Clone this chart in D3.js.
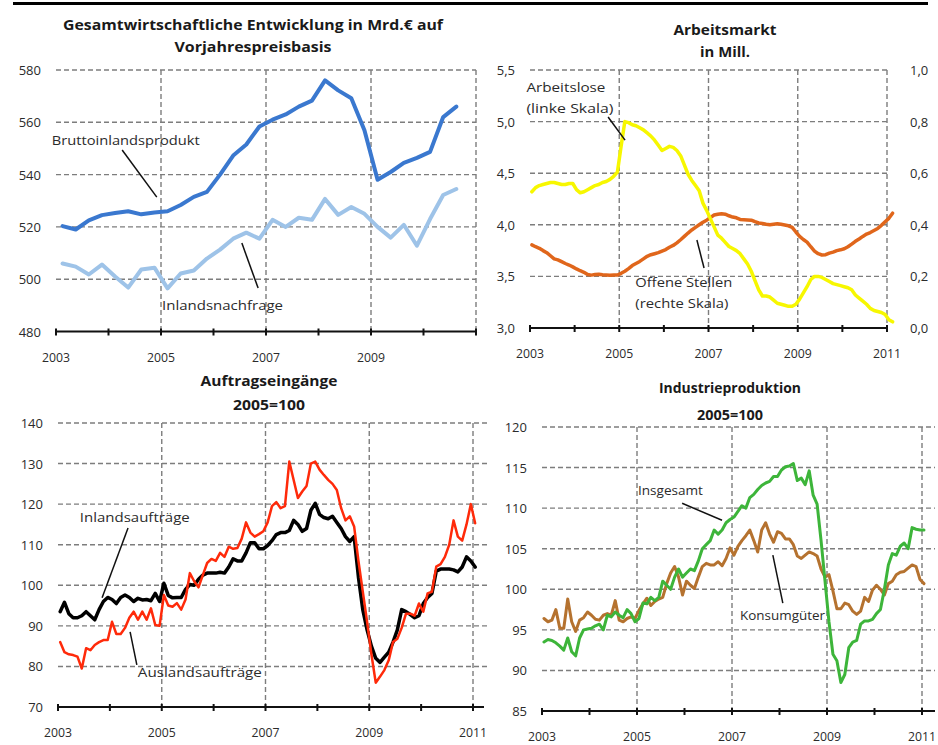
<!DOCTYPE html>
<html>
<head>
<meta charset="utf-8">
<script src="https://cdn.jsdelivr.net/npm/d3@7"></script>
<style>
  body { margin: 0; background: #fff; }
  svg { display: block; }
  text { font-family: "Open Sans", "DejaVu Sans", sans-serif; fill: #2b2b2b; }
</style>
</head>
<body>
<svg id="chart" width="938" height="745"></svg>
<script>
// ---- data ----
var years = [2003, 2004, 2005, 2006, 2007, 2008, 2009, 2010, 2011];
var gridYears = [2005, 2007, 2009, 2011];

// Gesamtwirtschaftliche Entwicklung, quarterly from 2003 Q1, Mrd. EUR
var bipValues = [520.3, 519, 522.5, 524.5, 525.3, 526, 524.8, 525.5, 526, 528.4, 531.5, 533.4,
  540, 547.3, 551.5, 558.4, 561, 563, 566, 568.3, 576, 572.2, 569.2, 557, 538, 541, 544.5,
  546.4, 548.7, 562, 566];
var inlandsnachfrageValues = [506, 504.8, 501.8, 505.6, 501, 496.8, 503.7, 504.4, 496.5, 502.2,
  503.3, 507.9, 511.3, 515.5, 517.8, 515.5, 522.7, 520, 523.5, 522.7, 530.7, 524.6, 527.6, 525,
  520, 515.9, 520.8, 512.8, 523, 532.2, 534.5];

// Arbeitsmarkt, monthly from Jan 2003, Mill.
var arbeitsloseValues = [4.32, 4.36, 4.38, 4.39, 4.40, 4.41, 4.41, 4.40, 4.39, 4.39,
  4.40, 4.40, 4.34, 4.31, 4.32, 4.34, 4.36, 4.38, 4.39, 4.41,
  4.42, 4.44, 4.47, 4.51, 4.76, 5.00, 4.99, 4.97, 4.96, 4.94,
  4.92, 4.89, 4.86, 4.82, 4.77, 4.72, 4.74, 4.76, 4.75, 4.72,
  4.67, 4.58, 4.49, 4.43, 4.38, 4.33, 4.21, 4.14, 4.06, 3.98,
  3.90, 3.87, 3.83, 3.79, 3.77, 3.75, 3.72, 3.67, 3.62, 3.55,
  3.46, 3.37, 3.31, 3.31, 3.30, 3.27, 3.24, 3.23, 3.22, 3.21,
  3.21, 3.23, 3.28, 3.34, 3.40, 3.47, 3.50, 3.50, 3.49, 3.47,
  3.45, 3.43, 3.42, 3.41, 3.40, 3.39, 3.37, 3.32, 3.29, 3.26,
  3.23, 3.19, 3.17, 3.16, 3.15, 3.13, 3.08, 3.06];
var offeneStellenValues = [0.322, 0.315, 0.309, 0.300, 0.292, 0.280, 0.268, 0.264, 0.257, 0.250,
  0.244, 0.237, 0.229, 0.222, 0.216, 0.207, 0.205, 0.207, 0.208, 0.206,
  0.205, 0.204, 0.205, 0.205, 0.212, 0.220, 0.230, 0.242, 0.250, 0.258,
  0.268, 0.278, 0.284, 0.288, 0.292, 0.298, 0.304, 0.313, 0.320, 0.330,
  0.342, 0.355, 0.368, 0.380, 0.390, 0.400, 0.410, 0.418, 0.428, 0.438,
  0.441, 0.443, 0.441, 0.435, 0.430, 0.427, 0.421, 0.420, 0.419, 0.418,
  0.412, 0.407, 0.405, 0.402, 0.400, 0.402, 0.404, 0.402, 0.399, 0.396,
  0.390, 0.372, 0.355, 0.343, 0.333, 0.315, 0.298, 0.288, 0.283, 0.284,
  0.290, 0.294, 0.300, 0.303, 0.307, 0.315, 0.325, 0.336, 0.345, 0.355,
  0.364, 0.370, 0.378, 0.386, 0.398, 0.412, 0.425, 0.445];

// Auftragseingänge, monthly from Jan 2003, 2005=100
var inlandsauftraegeValues = [93.5, 95.8, 93, 92, 92, 92.5, 93.5, 92.5, 91.5, 94,
  96, 97, 96.5, 95.5, 97, 97.6, 97, 96, 96.8, 96.4,
  96.5, 96.2, 98, 96, 100.5, 97.5, 96.9, 97, 97, 99,
  100.2, 100, 101.5, 102.5, 103, 103, 103, 103.2, 103, 104.5,
  106.5, 106, 106, 108, 110.5, 110.5, 109, 109, 109.8, 111,
  112.5, 113, 113, 113.5, 116, 115, 113.3, 114, 118.5, 120.2,
  117.5, 116.7, 116.4, 117, 115.5, 114, 112, 110.8, 112, 102,
  94, 89, 85, 82, 81, 82.3, 83.5, 86, 89, 94,
  93.5, 92.8, 92, 92.5, 95.5, 97, 98, 103.5, 104, 104,
  104, 103.8, 103.3, 104.5, 107, 106, 104.5];
var auslandsauftraegeValues = [86, 83.5, 83, 82.8, 82.4, 79.5, 84.5, 84, 85.3, 86,
  86.5, 86.5, 91, 88, 88, 89.5, 92, 93.5, 91.5, 93.5,
  91.5, 94.3, 90.2, 90, 97.6, 95, 94.7, 95.6, 94, 96.5,
  103, 101, 99.5, 102.5, 105.5, 106.5, 106, 108, 107, 109.5,
  109, 109.2, 111.5, 115.5, 113, 112, 112.6, 113.3, 115.5, 119.5,
  120.5, 119, 119.5, 130.5, 126, 121.5, 123.1, 124.5, 130, 130.5,
  128.5, 127.2, 126, 125, 123.5, 119, 116, 117, 114.5, 106,
  98.5, 91, 83, 76, 77.5, 79.1, 81.5, 86, 86.8, 89.5,
  93, 93, 92.5, 95.5, 93.5, 98, 98.4, 104.6, 105.2, 107,
  110, 116, 112, 111, 115, 120, 115.3];

// Industrieproduktion, monthly from Jan 2003, 2005=100
var insgesamtValues = [93.5, 93.8, 93.7, 93.4, 93, 92.5, 94, 92.3, 91.8, 94,
  95, 95.1, 95.2, 95.5, 95.7, 95, 96.8, 96.6, 97.2, 96.8,
  96.5, 97.5, 97, 96, 96.4, 98.3, 98.2, 99, 98.6, 99,
  101, 100.5, 100, 101.5, 102.5, 101.5, 102, 102.5, 102.3, 103.5,
  105, 105.5, 106, 107.3, 106.8, 107.3, 108.2, 108.6, 108.9, 109.6,
  110.3, 110, 111.3, 111.7, 112.3, 112.8, 113.1, 113.3, 113.9, 113.9,
  114.7, 115.1, 115.2, 115.5, 113.4, 113.7, 112.9, 114.6, 111.6, 110.5,
  106, 101, 96, 92, 91.2, 88.5, 89.5, 92.8, 93.5, 93.7,
  95.7, 96.1, 96.1, 96.3, 97, 97.5, 100, 103, 104.4, 104.2,
  105.3, 105.7, 105, 107.6, 107.4, 107.3, 107.3];
var konsumgueterValues = [96.4, 96, 96.2, 97.5, 95.2, 95.2, 98.8, 96, 94.8, 96.2,
  96.5, 97.2, 96.8, 96.3, 96.2, 96.8, 97, 96.8, 98.6, 96.2,
  96, 96.4, 96.6, 96.4, 97.4, 98.2, 98.9, 98, 98.5, 98.8,
  99, 100.7, 102, 102.8, 101.5, 99.3, 101, 100.5, 100.1, 101.5,
  102.8, 103.2, 103, 103, 103.4, 102.9, 103.8, 105.1, 104.2, 105.3,
  106, 106.6, 107.3, 106, 104.6, 107.3, 108.2, 106.8, 105.8, 107.1,
  106.9, 106.2, 106.2, 105.5, 104.1, 103.8, 104.2, 104.6, 104.4, 104.1,
  102.5, 101.5, 101.8, 99.8, 97.6, 97.6, 98.3, 98.1, 97.3, 96.9,
  97.3, 99, 98.5, 99.9, 100.5, 100, 99.3, 100.7, 101, 101.8,
  102.1, 102.2, 102.6, 103, 102.8, 101.2, 100.7];

var bipTicks = [480, 500, 520, 540, 560, 580];
var arbeitsloseTicks = [3.0, 3.5, 4.0, 4.5, 5.0, 5.5];
var offeneStellenTicks = [0.0, 0.2, 0.4, 0.6, 0.8, 1.0];
var auftragTicks = [70, 80, 90, 100, 110, 120, 130, 140];
var produktionTicks = [85, 90, 95, 100, 105, 110, 115, 120];

var germanFormat = d3.formatLocale({decimal: ",", thousands: ".", grouping: [3], currency: ["", " €"]});
var fmt1 = germanFormat.format(".1f");

var svg = d3.select("#chart");

// rule at the top of the page
svg.append("line")
    .attr("x1", 13).attr("x2", 928)
    .attr("y1", 3.5).attr("y2", 3.5)
    .attr("stroke", "#000")
    .attr("stroke-width", 3);

var panels = [
  {
    box: {left: 56, right: 476, top: 70, bottom: 331.5, gridRight: 476, axisRight: 476},
    yDomain: [480, 580], yTicks: bipTicks, yFormat: d3.format("d"),
    yearLabels: [2003, 2005, 2007, 2009],
    titles: [{text: "Gesamtwirtschaftliche Entwicklung in Mrd.€ auf", y: 30, w: 380},
             {text: "Vorjahrespreisbasis", y: 52, w: 157}], titleX: 253,
    step: 0.25,
    series: [
      {values: inlandsnachfrageValues, color: "#9ec3e8", width: 4},
      {values: bipValues, color: "#3a78cf", width: 4}
    ],
    notes: [
      {lines: ["Bruttoinlandsprodukt"], x: 2002.92, y: 551.3, w: [148], from: [2004.26, 549.4], to: [2004.92, 531.4]},
      {lines: ["Inlandsnachfrage"], x: 2005.02, y: 488.2, w: [121], from: [2006.54, 513.8], to: [2006.85, 496.6]}
    ]
  },
  {
    box: {left: 530, right: 887, top: 70, bottom: 328, gridRight: 887, axisRight: 887},
    yDomain: [3, 5.5], yTicks: arbeitsloseTicks, yFormat: fmt1,
    rightDomain: [0, 1], rightTicks: offeneStellenTicks,
    yearLabels: years.filter(function (y) { return y % 2 === 1; }),
    titles: [{text: "Arbeitsmarkt", y: 35, w: 103}, {text: "in Mill.", y: 57, w: 50}], titleX: 725,
    step: 1 / 12,
    series: [
      {values: offeneStellenValues, color: "#e0661b", width: 3.5, right: true},
      {values: arbeitsloseValues, color: "#f7f700", width: 3.5}
    ],
    notes: [
      {lines: ["Arbeitslose", "(linke Skala)"], x: 2002.92, y: 5.287, w: [79, 87], from: [2004.75, 5.045], to: [2005.13, 4.82]},
      {lines: ["Offene Stellen", "(rechte Skala)"], x: 2005.36, y: 3.397, w: [97, 93], from: [2006.74, 3.853], to: [2006.90, 3.581]}
    ]
  },
  {
    box: {left: 58, right: 473, top: 423, bottom: 707, gridRight: 487, axisRight: 484},
    yDomain: [70, 140], yTicks: auftragTicks, yFormat: d3.format("d"),
    yearLabels: years.filter(function (y) { return y % 2 === 1; }),
    titles: [{text: "Auftragseingänge", y: 386, w: 137}, {text: "2005=100", y: 410, w: 72}], titleX: 269,
    step: 1 / 12,
    series: [
      {values: inlandsauftraegeValues, color: "#000", width: 3.5},
      {values: auslandsauftraegeValues, color: "#ff2a0a", width: 2.5}
    ],
    notes: [
      {lines: ["Inlandsaufträge"], x: 2003.42, y: 115.6, w: [110], from: [2004.35, 114.1], to: [2003.85, 96.9]},
      {lines: ["Auslandsaufträge"], x: 2004.54, y: 77.4, w: [124], from: [2004.39, 88.5], to: [2004.52, 80.4]}
    ]
  },
  {
    box: {left: 542, right: 922, top: 427, bottom: 711, gridRight: 935, axisRight: 935},
    yDomain: [85, 120], yTicks: produktionTicks, yFormat: d3.format("d"),
    yearLabels: years.filter(function (y) { return y % 2 === 1; }),
    titles: [{text: "Industrieproduktion", y: 393, w: 142}, {text: "2005=100", y: 420, w: 66}], titleX: 730,
    step: 1 / 12,
    series: [
      {values: konsumgueterValues, color: "#b5722f", width: 3},
      {values: insgesamtValues, color: "#3db53a", width: 3}
    ],
    notes: [
      {lines: ["Insgesamt"], x: 2005.02, y: 111.6, w: [65], from: [2005.95, 110.6], to: [2006.79, 108.5]},
      {lines: ["Konsumgüter"], x: 2007.17, y: 96.2, w: [85], from: [2007.86, 104.2], to: [2008.07, 98.3]}
    ]
  }
];

panels.forEach(function (p) {
  var b = p.box;
  var g = svg.append("g");
  var x = d3.scaleLinear().domain([2003, 2011]).range([b.left, b.right]);
  var y = d3.scaleLinear().domain(p.yDomain).range([b.bottom, b.top]);
  var yRight = p.rightDomain ? d3.scaleLinear().domain(p.rightDomain).range([b.bottom, b.top]) : null;

  // titles
  p.titles.forEach(function (t) {
    g.append("text")
        .attr("x", p.titleX).attr("y", t.y)
        .attr("text-anchor", "middle")
        .attr("font-size", 14).attr("font-weight", "bold")
        .attr("textLength", t.w).attr("lengthAdjust", "spacingAndGlyphs")
        .style("fill", "#1a1a1a")
        .text(t.text);
  });

  // dashed grid
  g.selectAll("line.hgrid").data(p.yTicks.slice(1)).enter().append("line")
      .attr("class", "hgrid")
      .attr("x1", b.left).attr("x2", b.gridRight)
      .attr("y1", function (d) { return y(d); }).attr("y2", function (d) { return y(d); })
      .attr("stroke", "#7d7d7d").attr("stroke-width", 1.4)
      .attr("stroke-dasharray", "5,3");
  g.selectAll("line.vgrid").data(gridYears).enter().append("line")
      .attr("class", "vgrid")
      .attr("x1", function (d) { return x(d); }).attr("x2", function (d) { return x(d); })
      .attr("y1", b.top).attr("y2", b.bottom)
      .attr("stroke", "#7d7d7d").attr("stroke-width", 1.4)
      .attr("stroke-dasharray", "5,3");

  // y labels
  g.selectAll("text.ylab").data(p.yTicks).enter().append("text")
      .attr("class", "ylab")
      .attr("x", b.left - 15).attr("y", function (d) { return y(d) + 5; })
      .attr("text-anchor", "end").attr("font-size", 13)
      .text(p.yFormat);
  if (yRight) {
    g.selectAll("text.rlab").data(p.rightTicks).enter().append("text")
        .attr("class", "rlab")
        .attr("x", b.right + 23).attr("y", function (d) { return yRight(d) + 5; })
        .attr("font-size", 13)
        .text(fmt1);
  }

  // series
  p.series.forEach(function (s) {
    var ys = s.right ? yRight : y;
    var line = d3.line()
        .x(function (d, i) { return x(2003 + (i + 0.5) * p.step); })
        .y(function (d) { return ys(d); });
    g.append("path")
        .datum(s.values)
        .attr("d", line)
        .attr("fill", "none")
        .attr("stroke", s.color)
        .attr("stroke-width", s.width)
        .attr("stroke-linejoin", "round")
        .attr("stroke-linecap", "round");
  });

  // x axis
  g.append("line")
      .attr("x1", b.left).attr("x2", b.axisRight)
      .attr("y1", b.bottom).attr("y2", b.bottom)
      .attr("stroke", "#111").attr("stroke-width", 2.2);
  g.selectAll("line.xtick").data(years).enter().append("line")
      .attr("class", "xtick")
      .attr("x1", function (d) { return x(d); }).attr("x2", function (d) { return x(d); })
      .attr("y1", b.bottom - 3).attr("y2", b.bottom + 4)
      .attr("stroke", "#111").attr("stroke-width", 2);
  g.selectAll("text.xlab").data(p.yearLabels).enter().append("text")
      .attr("class", "xlab")
      .attr("x", function (d) { return x(d); }).attr("y", b.bottom + 30)
      .attr("text-anchor", "middle").attr("font-size", 12.5)
      .attr("textLength", 28).attr("lengthAdjust", "spacingAndGlyphs")
      .text(function (d) { return d; });

  // annotations with leader lines
  p.notes.forEach(function (n) {
    var ys = y;
    n.lines.forEach(function (t, k) {
      g.append("text")
          .attr("x", x(n.x)).attr("y", ys(n.y) + k * 21)
          .attr("font-size", 13)
          .attr("textLength", n.w[k]).attr("lengthAdjust", "spacingAndGlyphs")
          .text(t);
    });
    g.append("line")
        .attr("x1", x(n.from[0])).attr("y1", ys(n.from[1]))
        .attr("x2", x(n.to[0])).attr("y2", ys(n.to[1]))
        .attr("stroke", "#111").attr("stroke-width", 1.5);
  });
});
</script>
</body>
</html>
